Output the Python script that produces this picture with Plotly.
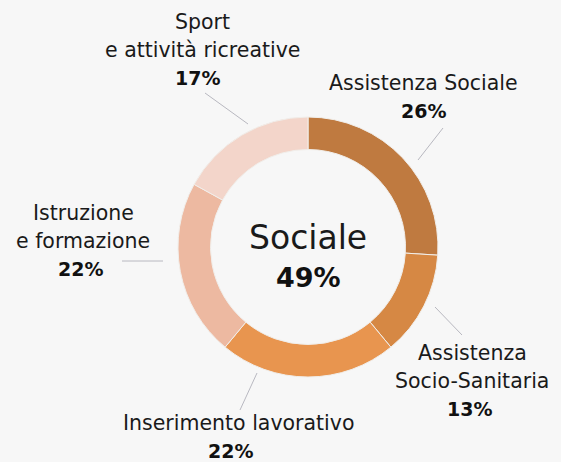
import plotly.graph_objects as go

W, H = 561, 462

categories = ["Assistenza Sociale", "Assistenza Socio-Sanitaria", "Inserimento lavorativo",
              "Istruzione e formazione", "Sport e attività ricreative"]
values = [26, 13, 22, 22, 17]
label_lines = [["Assistenza Sociale"], ["Assistenza", "Socio-Sanitaria"], ["Inserimento lavorativo"],
               ["Istruzione", "e formazione"], ["Sport", "e attività ricreative"]]
center_title = "Sociale"
center_value = "49%"

colors = ["#bf7a40", "#d68844", "#e8954f", "#edb9a1", "#f3d5ca"]
bg = "#f7f7f7"

# layout config (pixel positions of label blocks and leader lines)
cx, cy, R = 308, 247, 130
label_pos = [(423, 83), (472, 353), (238, 423), (83, 213), (202, 22)]
pct_x_offset = [0, -3, -8, -3, -5]
line_step = 28
leaders = [((418, 160), (443, 128)), ((435, 307), (462, 335)), ((257, 373), (240, 410)),
           ((122, 261), (163, 261)), ((205, 93), (248, 124))]

px = lambda x: x / W
py = lambda y: 1 - y / H

fig = go.Figure(go.Pie(
    labels=categories, values=values, hole=0.75, sort=False, direction="clockwise",
    rotation=0, marker=dict(colors=colors, line=dict(color="#f1eeea", width=1)),
    textinfo="none", hoverinfo="label+percent", showlegend=False,
    domain=dict(x=[px(cx - R), px(cx + R)], y=[py(cy + R), py(cy - R)]),
))

font_reg = dict(family="DejaVu Sans", size=20.5, color="#1a1a1a")
font_bold = dict(family="DejaVu Sans", size=19, color="#111111")
annotations = []
shapes = []
for i, lines in enumerate(label_lines):
    x0, y0 = label_pos[i]
    for j, t in enumerate(lines):
        annotations.append(dict(x=px(x0), y=py(y0 + j * line_step), xref="paper", yref="paper",
                                text=t, showarrow=False, xanchor="center", yanchor="middle",
                                font=font_reg))
    annotations.append(dict(x=px(x0 + pct_x_offset[i]), y=py(y0 + len(lines) * line_step),
                            xref="paper", yref="paper", text="<b>%d%%</b>" % values[i],
                            showarrow=False, xanchor="center", yanchor="middle", font=font_bold))
    (a, b), (c, d) = leaders[i]
    shapes.append(dict(type="line", xref="paper", yref="paper", x0=px(a), y0=py(b), x1=px(c), y1=py(d),
                       line=dict(color="#b8b8c0", width=1)))

annotations.append(dict(x=px(cx), y=py(237), xref="paper", yref="paper", text=center_title,
                        showarrow=False, xanchor="center", yanchor="middle",
                        font=dict(family="DejaVu Sans", size=33, color="#1a1a1a")))
annotations.append(dict(x=px(cx), y=py(277), xref="paper", yref="paper", text="<b>%s</b>" % center_value,
                        showarrow=False, xanchor="center", yanchor="middle",
                        font=dict(family="DejaVu Sans", size=27, color="#111111")))

fig.update_layout(width=W, height=H, margin=dict(l=0, r=0, t=0, b=0),
                  paper_bgcolor=bg, plot_bgcolor=bg, annotations=annotations, shapes=shapes)
fig.write_html("out.html", config={"displayModeBar": False},
               post_script="document.body.style.margin='0';document.body.style.overflow='hidden';")
